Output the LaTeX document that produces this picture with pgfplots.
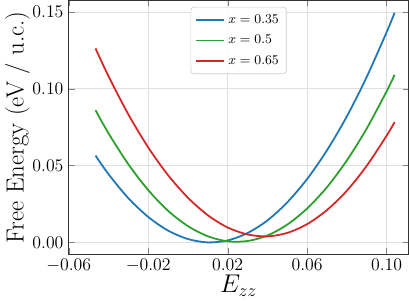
\documentclass[border=0pt]{standalone}
\usepackage{pgfplots}
\pgfplotsset{compat=1.18}
\definecolor{tabblue}{HTML}{1F77B4}
\definecolor{tabgreen}{HTML}{2CA02C}
\definecolor{tabred}{HTML}{D62728}
\begin{document}
\begin{tikzpicture}
\begin{axis}[
  width=229pt, height=171pt, scale only axis,
  xmin=-0.06, xmax=0.111, ymin=-0.0077, ymax=0.1575,
  xtick={-0.06,-0.02,0.02,0.06,0.10},
  ytick={0,0.05,0.10,0.15},
  scaled ticks=false,
  ticklabel style={font=\fontsize{12}{14}\selectfont},
  xticklabel style={/pgf/number format/.cd, fixed, fixed zerofill, precision=2},
  yticklabel style={/pgf/number format/.cd, fixed, fixed zerofill, precision=2},
  tick align=inside, tick pos=both,
  major tick length=4pt,
  grid=major, grid style={gray!25, line width=0.5pt},
  axis line style={black!80, line width=0.7pt},
  xlabel={$E_{zz}$},
  ylabel={Free Energy (eV / u.c.)},
  label style={font=\fontsize{16.7}{20}\selectfont},
  xlabel shift=-5pt,
  ylabel shift=-5pt,
  legend style={at={(0.5,0.975)}, anchor=north, font=\small, draw=black!20, rounded corners=2pt, fill=white, fill opacity=0.9, text opacity=1, row sep=2.5pt, inner sep=3pt},
  legend cell align=left,
  legend image code/.code={\draw[#1, line width=1.2pt] (0pt,0pt) -- (19pt,0pt);},
]
\addplot[tabblue, line width=1.2pt, smooth] coordinates {
(-0.0465,0.0565) (-0.04,0.0445) (-0.03,0.0288) (-0.02,0.0166) (-0.01,0.0077) (0,0.0022) (0.01,0.0000) (0.02,0.0013) (0.03,0.0061) (0.04,0.0143) (0.05,0.0261) (0.06,0.0413) (0.07,0.0600) (0.08,0.0821) (0.09,0.1078) (0.10,0.1369) (0.104,0.1495)
};
\addlegendentry{$x=0.35$}
\addplot[tabgreen, line width=1.2pt, smooth] coordinates {
(-0.0465,0.0861) (-0.04,0.0711) (-0.03,0.0509) (-0.02,0.0341) (-0.01,0.0206) (0,0.0106) (0.01,0.0040) (0.02,0.0007) (0.03,0.0009) (0.04,0.0045) (0.05,0.0116) (0.06,0.0221) (0.07,0.0360) (0.08,0.0534) (0.09,0.0742) (0.10,0.0984) (0.104,0.1091)
};
\addlegendentry{$x=0.5$}
\addplot[tabred, line width=1.2pt, smooth] coordinates {
(-0.0465,0.1263) (-0.04,0.1083) (-0.03,0.0834) (-0.02,0.0619) (-0.01,0.0438) (0,0.0291) (0.01,0.0177) (0.02,0.0097) (0.03,0.0052) (0.04,0.0039) (0.05,0.0062) (0.06,0.0119) (0.07,0.0211) (0.08,0.0337) (0.09,0.0499) (0.10,0.0695) (0.104,0.0783)
};
\addlegendentry{$x=0.65$}
\end{axis}
\end{tikzpicture}
\end{document}
